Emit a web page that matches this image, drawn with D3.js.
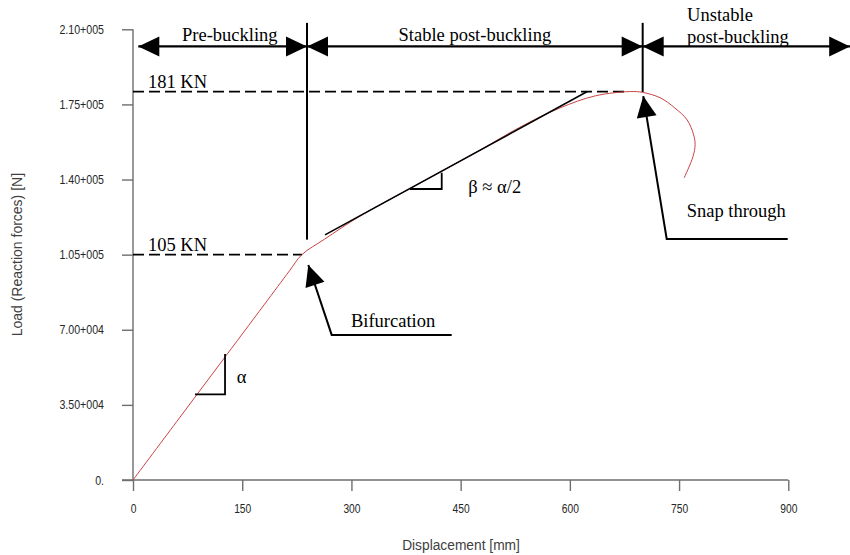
<!DOCTYPE html>
<html>
<head>
<meta charset="utf-8">
<script src="https://cdn.jsdelivr.net/npm/d3@7"></script>
<style>
  html, body { margin: 0; padding: 0; background: #fff; }
  svg { display: block; }
</style>
</head>
<body>
<svg id="chart" width="850" height="555"></svg>
<script>
// Load–displacement response of the buckling test
const displacement = [0, 60, 120, 180, 215, 232, 263, 312, 394, 477, 531, 586, 635, 683, 700, 724, 744, 761, 770, 772, 769, 757];
const reaction     = [0, 27200, 54400, 81600, 97500, 105000, 112200, 123000, 138300, 153800, 164300, 173300, 179000, 181000, 180600, 178100, 173400, 167800, 160800, 156200, 150600, 140800];

// Axis ticks
const xTicks = [0, 150, 300, 450, 600, 750, 900];
const yTicks = [0, 35000, 70000, 105000, 140000, 175000, 210000];
const yTickLabels = ["0.", "3.50+004", "7.00+004", "1.05+005", "1.40+005", "1.75+005", "2.10+005"];

// Characteristic loads
const criticalLoads = [105000, 181000];
const criticalLabels = ["105 KN", "181 KN"];
const criticalEnds = [232, 676];

// Regime boundaries and names
const regimeEdges = [7.3, 239, 700, 985];
const regimeNames = [["Pre-buckling"], ["Stable post-buckling"], ["Unstable", "post-buckling"]];

const svg = d3.select("#chart");
const x = d3.scaleLinear().domain([0, 900]).range([133, 788.3]);
const y = d3.scaleLinear().domain([0, 210000]).range([480, 29.3]);

const serif = "'Liberation Serif', 'Times New Roman', serif";
const sans = "'Liberation Sans', Arial, sans-serif";
const axisGrey = "#6e6e6e";

// ---- axes ----
const gx = svg.append("g").attr("transform", `translate(0,${y(0)})`)
  .call(d3.axisBottom(x).tickValues(xTicks).tickSize(11).tickSizeOuter(0).tickPadding(13));
const gy = svg.append("g").attr("transform", `translate(${x(0)},0)`)
  .call(d3.axisLeft(y).tickValues(yTicks).tickSize(11).tickSizeOuter(0).tickPadding(18)
    .tickFormat((d, i) => yTickLabels[i]));

[gx, gy].forEach(g => {
  g.select(".domain").attr("stroke", axisGrey).attr("stroke-width", 1.4);
  g.selectAll(".tick line").attr("stroke", axisGrey).attr("stroke-width", 1.4);
  g.selectAll(".tick text").attr("fill", "#262626")
    .style("font-family", sans).style("font-size", "12.5px");
});
// x axis line reaches back to the y tick marks
gx.select(".domain").attr("d", `M${x(0) - 11},0H${x(900)}`);
gy.select(".domain").attr("d", `M0,${y(210000)}V${y(0)}`);

// narrow tick lettering
gx.selectAll(".tick text").each(function () {
  const t = d3.select(this);
  const yy = +t.attr("y");
  t.attr("y", null).attr("dy", "0.71em")
    .attr("transform", `translate(0,${yy}) scale(0.82,1)`);
});
gy.selectAll(".tick text").each(function () {
  const t = d3.select(this);
  const xx = +t.attr("x");
  t.attr("x", null).attr("transform", `translate(${xx},0) scale(0.85,1)`);
});

svg.append("text")
  .attr("x", 0).attr("y", 0)
  .attr("text-anchor", "middle")
  .style("font-family", sans).style("font-size", "14.5px").attr("fill", "#404040")
  .attr("transform", "translate(461,550) scale(0.95,1)")
  .text("Displacement [mm]");

svg.append("text")
  .attr("transform", `translate(22,${y(105000)}) rotate(-90)`)
  .attr("text-anchor", "middle")
  .style("font-family", sans).style("font-size", "14px").attr("fill", "#404040")
  .text("Load (Reaction forces) [N]");

// ---- dashed reference loads ----
criticalLoads.forEach((v, i) => {
  svg.append("line")
    .attr("x1", x(0)).attr("x2", x(criticalEnds[i]))
    .attr("y1", y(v)).attr("y2", y(v))
    .attr("stroke", "#000").attr("stroke-width", 1.7)
    .attr("stroke-dasharray", "11,5");
  svg.append("text")
    .attr("x", x(20.5)).attr("y", y(v) - 4)
    .style("font-family", serif).style("font-size", "18.5px").attr("fill", "#000")
    .text(criticalLabels[i]);
});

// ---- response curve ----
const pts = displacement.map((d, i) => [d, reaction[i]]);
svg.append("path")
  .datum(pts)
  .attr("fill", "none")
  .attr("stroke", "#c8383a")
  .attr("stroke-width", 0.95)
  .attr("d", d3.line().x(d => x(d[0])).y(d => y(d[1])).curve(d3.curveCatmullRom.alpha(0.5)));

// ---- arrow helper ----
function head(tip, from, len = 21, half = 10) {
  const dx = tip[0] - from[0], dy = tip[1] - from[1];
  const L = Math.hypot(dx, dy), ux = dx / L, uy = dy / L;
  const bx = tip[0] - ux * len, by = tip[1] - uy * len;
  return [tip, [bx - uy * half, by + ux * half], [bx + uy * half, by - ux * half]];
}
function drawHead(tip, from) {
  svg.append("polygon")
    .attr("points", head(tip, from).map(p => p.join(",")).join(" "))
    .attr("fill", "#000");
}

// ---- regime boundaries ----
const regimeLoad = 202000;
[[regimeEdges[1], 112000], [regimeEdges[2], 180800]].forEach(([d, bottom]) => {
  svg.append("line")
    .attr("x1", x(d)).attr("x2", x(d))
    .attr("y1", y(213000)).attr("y2", y(bottom))
    .attr("stroke", "#000").attr("stroke-width", 2);
});

for (let i = 0; i < regimeNames.length; i++) {
  const a = [x(regimeEdges[i]), y(regimeLoad)];
  const b = [x(regimeEdges[i + 1]), y(regimeLoad)];
  svg.append("line")
    .attr("x1", a[0]).attr("x2", b[0]).attr("y1", a[1]).attr("y2", b[1])
    .attr("stroke", "#000").attr("stroke-width", 2.2);
  drawHead(a, b);
  drawHead(b, a);
}

const nameSpots = [[133, 204700, "middle"], [469.5, 204400, "middle"], [761, 213800, "start"]];
regimeNames.forEach((lines, i) => {
  const [d, v, anchor] = nameSpots[i];
  const t = svg.append("text")
    .attr("x", x(d)).attr("y", y(v))
    .attr("text-anchor", anchor)
    .style("font-family", serif).style("font-size", "18.5px").attr("fill", "#000");
  lines.forEach((s, k) => {
    t.append("tspan").attr("x", x(d)).attr("dy", k === 0 ? 0 : 21.5).text(s);
  });
});

// ---- slope triangles ----
const alphaTri = [[85.2, 39900], [126.4, 39900], [126.4, 58700]];
const betaTri = [[380.4, 135600], [424, 135600], [424, 143200]];
[alphaTri, betaTri].forEach(tri => {
  svg.append("path")
    .attr("d", d3.line().x(d => x(d[0])).y(d => y(d[1]))(tri))
    .attr("fill", "none").attr("stroke", "#000").attr("stroke-width", 1.8);
});
svg.append("text").attr("x", x(142.4)).attr("y", y(45000))
  .style("font-family", serif).style("font-size", "18.5px").text("α");
svg.append("text").attr("x", x(460.5)).attr("y", y(133600))
  .style("font-family", serif).style("font-size", "18.5px").text("β ≈ α/2");

// tangent to the stable post-buckling branch
const tangent = [[263.7, 114200], [624, 181000]];
svg.append("line")
  .attr("x1", x(tangent[0][0])).attr("y1", y(tangent[0][1]))
  .attr("x2", x(tangent[1][0])).attr("y2", y(tangent[1][1]))
  .attr("stroke", "#000").attr("stroke-width", 1.6);

// ---- callouts ----
const callouts = [
  { text: "Bifurcation", tip: [240.8, 100200], elbow: [272.9, 67600], end: 437.7, label: [299.4, 71200] },
  { text: "Snap through", tip: [700.8, 178900], elbow: [733, 112300], end: 899.2, label: [760.4, 122700] }
];
callouts.forEach(c => {
  const tip = [x(c.tip[0]), y(c.tip[1])];
  const elbow = [x(c.elbow[0]), y(c.elbow[1])];
  svg.append("path")
    .attr("d", `M${tip[0]},${tip[1]}L${elbow[0]},${elbow[1]}H${x(c.end)}`)
    .attr("fill", "none").attr("stroke", "#000").attr("stroke-width", 2);
  drawHead(tip, elbow);
  svg.append("text").attr("x", x(c.label[0])).attr("y", y(c.label[1]))
    .style("font-family", serif).style("font-size", "18.5px").text(c.text);
});
</script>
</body>
</html>
